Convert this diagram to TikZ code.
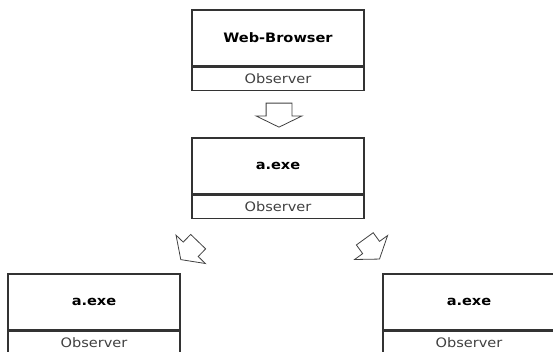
\documentclass[tikz,border=0pt]{standalone}
\usepackage{fontspec}
\newfontfamily\boxfont[FakeStretch=1.12]{DejaVu Sans}
\usetikzlibrary{positioning,shapes.arrows}

\begin{document}
\begin{tikzpicture}[x=1pt,y=-1pt]
      \clip (0,0) rectangle (553,352);
      \tikzstyle{every node}=[inner sep=0pt,font=\boxfont\fontsize{13}{15}\selectfont]
      \tikzstyle{titlebox}=[draw=black!80,line width=1.5pt,minimum width=172pt,
			    minimum height=56pt,font=\boxfont\fontsize{13}{15}\selectfont\bfseries]
      \tikzstyle{obsbox}=[draw=black!80,line width=1.5pt,minimum width=172pt,
			  minimum height=23pt,text=black!75]
      \tikzstyle{blockarrow}=[draw=black!75,line width=0.8pt,single arrow,
			      inner xsep=0pt,inner ysep=12.5pt,minimum height=24pt,
			      single arrow head extend=10pt,single arrow tip angle=128]
      \node (browser) [titlebox] at (278,38) {Web-Browser};
      \node (browserobs) [obsbox,below=0pt of browser] {Observer};
      \node (exe) [titlebox] at (278,166) {a.exe};
      \node (exeobs) [obsbox,below=0pt of exe] {Observer};
      \node (leftexe) [titlebox] at (94,302) {a.exe};
      \node (leftobs) [obsbox,below=0pt of leftexe] {Observer};
      \node (rightexe) [titlebox] at (469,302) {a.exe};
      \node (rightobs) [obsbox,below=0pt of rightexe] {Observer};
      % arrows between the boxes
      \node (down) [blockarrow,rotate=270] at (279,112) {};
      \node (downleft) [blockarrow,rotate=226,inner ysep=10pt,
			minimum height=25pt,single arrow tip angle=110] at (192,248) {};
      \node (downright) [blockarrow,rotate=306,inner ysep=10pt,
			 minimum height=25pt,single arrow tip angle=110] at (370,246) {};
\end{tikzpicture}
\end{document}
